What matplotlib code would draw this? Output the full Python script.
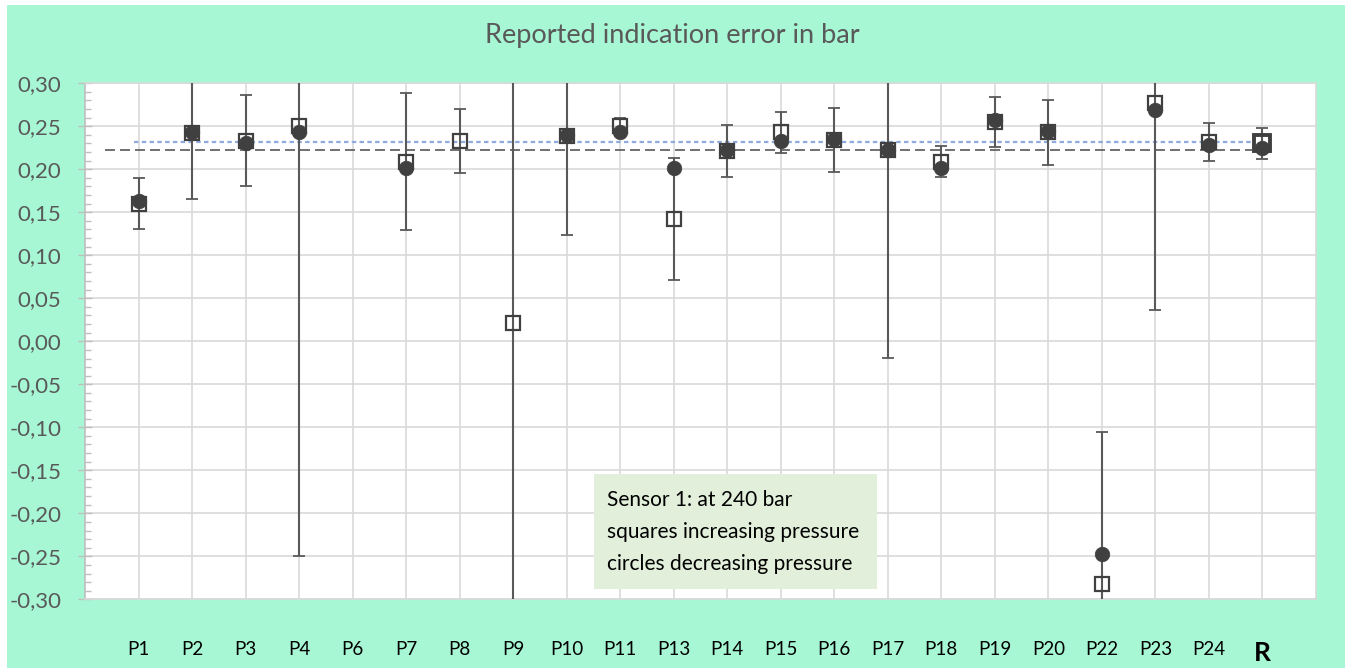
import numpy as np
import matplotlib; matplotlib.use("Agg")
import matplotlib.pyplot as plt
from matplotlib.patches import Rectangle
from matplotlib.ticker import MultipleLocator, FuncFormatter

plt.rcParams["font.family"] = ["Lato", "DejaVu Sans"]

# points along the x axis (P5, P12, P21 missing in the source)
labels = ["P1", "P2", "P3", "P4", "P6", "P7", "P8", "P9", "P10", "P11", "P13",
          "P14", "P15", "P16", "P17", "P18", "P19", "P20", "P22", "P23", "P24", "R"]
nan = np.nan
# squares: increasing pressure, with error bars
inc = [0.160, 0.242, 0.233, 0.250, nan, 0.209, 0.233, 0.021, 0.239, 0.250, 0.142,
       0.221, 0.243, 0.234, 0.222, 0.209, 0.255, 0.243, -0.282, 0.277, 0.232, 0.230]
inc_err = [0.030, 0.077, 0.053, 0.500, nan, 0.080, 0.037, 0.360, 0.115, 0.010, 0.071,
           0.030, 0.024, 0.037, 0.241, 0.018, 0.029, 0.038, 0.177, 0.241, 0.022, 0.018]
# circles: decreasing pressure
dec = [0.163, 0.243, 0.230, 0.243, nan, 0.201, nan, nan, 0.240, 0.243, 0.201,
       0.223, 0.233, 0.235, 0.223, 0.201, 0.257, 0.245, -0.247, 0.269, 0.228, 0.225]
# mean lines (value, x from, x to)
mean_inc = 0.232; mean_inc_span = [0.92, 21.8]
mean_dec = 0.223; mean_dec_span = [0.37, 21.8]

GREEN = "#A7F7D5"; DARK = "#404040"; GRID = "#D9D9D9"

x = np.arange(1, len(labels) + 1)
inc = np.array(inc); inc_err = np.array(inc_err); dec = np.array(dec)

fig = plt.figure(figsize=(13.45, 6.68), dpi=100)
fig.patch.set_facecolor("white")
W, H = 1345, 668
fig.patches.append(Rectangle((7 / W, 0), 1, 1 - 5 / H, transform=fig.transFigure,
                             facecolor=GREEN, edgecolor="none", zorder=-10))

ax = fig.add_axes([85 / W, (H - 599.3) / H, (1316 - 85) / W, (599.3 - 83.3) / H])
ax.set_facecolor("white")
ax.set_xlim(0, len(labels) + 1)
ax.set_ylim(-0.30, 0.30)

ax.yaxis.set_major_locator(MultipleLocator(0.05))
ax.yaxis.set_minor_locator(MultipleLocator(0.01))
ax.yaxis.set_major_formatter(FuncFormatter(lambda v, p: f"{round(v, 2) + 0:.2f}".replace(".", ",")))
ax.set_xticks(x)
ax.set_xticklabels(labels)
ax.grid(True, which="major", color=GRID, lw=1.2, zorder=0)
ax.set_axisbelow(True)
ax.tick_params(axis="y", which="major", direction="inout", length=10, width=1, color="#BFBFBF",
               labelsize=16, labelcolor="#595959", pad=12)
ax.tick_params(axis="y", which="minor", direction="in", length=4, width=1, color="#BFBFBF")
ax.tick_params(axis="x", length=0, labelsize=13.5, labelcolor="black", pad=30)
for s in ax.spines.values():
    s.set_color(GRID); s.set_linewidth(1.2)
ax.spines["left"].set_color("#BFBFBF")
lab = ax.get_xticklabels()[-1]
lab.set_fontweight("bold"); lab.set_fontsize(19)

# mean lines
ax.plot(mean_dec_span, [mean_dec] * 2, ls=(0, (6, 3)), color="#595959", lw=1.2, zorder=2)
ax.plot(mean_inc_span, [mean_inc] * 2, ls=(0, (2, 1.5)), color="#8FAADC", lw=1.6, zorder=2)

# error bars on the increasing-pressure points
ax.errorbar(x, inc, yerr=inc_err, fmt="none", ecolor="#595959", elinewidth=1.5,
            capsize=4.5, capthick=1.3, zorder=3)
ax.plot(x[:-1], inc[:-1], "s", ms=10, mfc="none", mec=DARK, mew=1.6, zorder=4)
ax.plot(x[-1:], inc[-1:], "s", ms=11.5, mfc="none", mec=DARK, mew=2.8, zorder=4)
ax.plot(x, dec, "o", ms=10.5, mfc=DARK, mec=DARK, mew=0.5, zorder=5)

fig.text(672 / W, 1 - 36 / H, "Reported indication error in bar", ha="center", va="center",
         fontsize=19.5, color="#595959")

# note box
fig.add_artist(Rectangle((594 / W, 1 - 589 / H), (877 - 594) / W, (589 - 474) / H,
                         transform=fig.transFigure, facecolor="#E2EFDA", edgecolor="none", zorder=6))
fig.text(607 / W, 1 - 490 / H, "Sensor 1: at 240 bar\nsquares increasing pressure\ncircles decreasing pressure",
         ha="left", va="top", fontsize=15, color="black", linespacing=1.75, zorder=7)

fig.savefig("out.png", dpi=100)
